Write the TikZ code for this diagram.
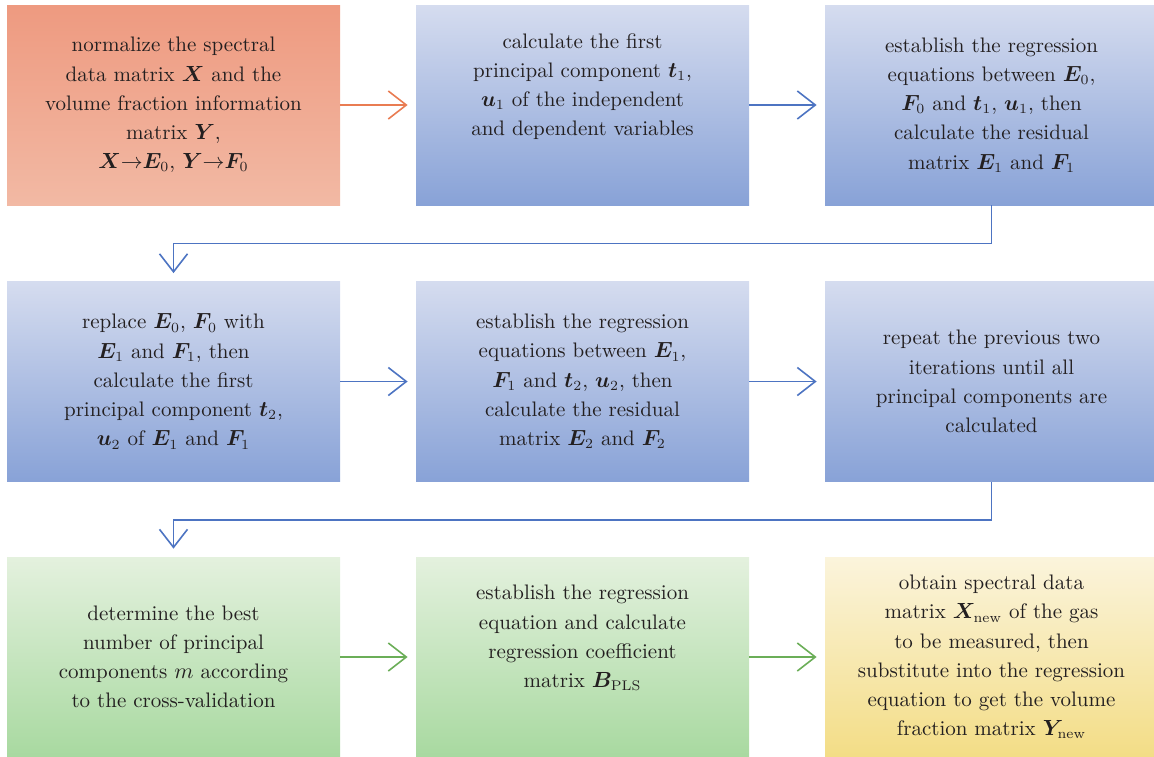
\documentclass[tikz,border=0pt]{standalone}
\usepackage{amsmath}
\usepackage{amssymb}
\usepackage{bm}
\usepackage{tikz}
\usetikzlibrary{arrows.meta}
\usetikzlibrary{positioning}
\definecolor{txt}{HTML}{231F20}
\definecolor{orgtop}{HTML}{EE9A80}
\definecolor{orgbot}{HTML}{F2B9A4}
\definecolor{blutop}{HTML}{D5DCEF}
\definecolor{blubot}{HTML}{88A2D7}
\definecolor{grntop}{HTML}{E4F1DE}
\definecolor{grnbot}{HTML}{A8D9A0}
\definecolor{ylwtop}{HTML}{FBF4DC}
\definecolor{ylwbot}{HTML}{F3DD86}
\definecolor{orgline}{HTML}{E97C52}
\definecolor{bluline}{HTML}{4D74C2}
\definecolor{grnline}{HTML}{6BAE58}
\tikzset{box/.style = {rectangle, minimum width = 166.5pt, minimum height = 100pt,
                       inner sep = 0, align = center, text = txt,
                       font = \fontsize{10.5}{14.6}\selectfont}}
\tikzset{orangebox/.style = {box, top color = orgtop, bottom color = orgbot}}
\tikzset{bluebox/.style = {box, top color = blutop, bottom color = blubot}}
\tikzset{greenbox/.style = {box, top color = grntop, bottom color = grnbot}}
\tikzset{yellowbox/.style = {box, top color = ylwtop, bottom color = ylwbot}}
\tikzset{arr/.style = {line width = 0.8pt, -{Straight Barb[length=9pt, width=14pt]}}}
\newcommand{\mt}[1]{\bm{#1}}

\begin{document}
\begin{tikzpicture}[x=0.5pt, y=-0.5pt]
      \useasboundingbox (0, 0) rectangle (1154, 756);

      \node (n1) at (173.5, 105) [orangebox] {normalize the spectral\\
        data matrix $\mt{X}$ and the\\ volume fraction information\\
        matrix $\mt{Y}$,\\ $\mt{X}{\rightarrow}\mt{E}_0$, $\mt{Y}{\rightarrow}\mt{F}_0$};
      \node (n2) at (582.5, 105) [bluebox] {calculate the first\\
        principal component $\mt{t}_1$,\\ $\mt{u}_1$ of the independent\\
        and dependent variables\\[6pt]};
      \node (n3) at (991.5, 105) [bluebox] {establish the regression\\
        equations between $\mt{E}_0$,\\ $\mt{F}_0$ and $\mt{t}_1$, $\mt{u}_1$, then\\
        calculate the residual\\ matrix $\mt{E}_1$ and $\mt{F}_1$};

      \node (n4) at (173.5, 381.5) [bluebox] {replace $\mt{E}_0$, $\mt{F}_0$ with\\
        $\mt{E}_1$ and $\mt{F}_1$, then\\ calculate the first\\
        principal component $\mt{t}_2$,\\ $\mt{u}_2$ of $\mt{E}_1$ and $\mt{F}_1$};
      \node (n5) at (582.5, 381.5) [bluebox] {establish the regression\\
        equations between $\mt{E}_1$,\\ $\mt{F}_1$ and $\mt{t}_2$, $\mt{u}_2$, then\\
        calculate the residual\\ matrix $\mt{E}_2$ and $\mt{F}_2$};
      \node (n6) at (991.5, 381.5) [bluebox] {repeat the previous two\\
        iterations until all\\ principal components are\\ calculated};

      \node (n7) at (173.5, 657) [greenbox] {determine the best\\
        number of principal\\ components $m$ according\\ to the cross-validation};
      \node (n8) at (582.5, 657) [greenbox] {establish the regression\\
        equation and calculate\\ regression coefficient\\
        matrix $\mt{B}_{\mathrm{PLS}}$\\[6pt]};
      \node (n9) at (991.5, 657) [yellowbox] {obtain spectral data\\
        matrix $\mt{X}_{\mathrm{new}}$ of the gas\\ to be measured, then\\
        substitute into the regression\\ equation to get the volume\\
        fraction matrix $\mt{Y}_{\mathrm{new}}$};

      \draw [arr, orgline] (n1.east) -- ([xshift=-4pt]n2.west);
      \draw [arr, bluline] (n2.east) -- ([xshift=-4pt]n3.west);
      \draw [arr, bluline] (n3.south) -- ++(0, 38) -| ([yshift=4pt]n4.north);
      \draw [arr, bluline] (n4.east) -- ([xshift=-4pt]n5.west);
      \draw [arr, bluline] (n5.east) -- ([xshift=-4pt]n6.west);
      \draw [arr, bluline] (n6.south) -- ++(0, 38) -| ([yshift=4pt]n7.north);
      \draw [arr, grnline] (n7.east) -- ([xshift=-4pt]n8.west);
      \draw [arr, grnline] (n8.east) -- ([xshift=-4pt]n9.west);
    \end{tikzpicture}
\end{document}
